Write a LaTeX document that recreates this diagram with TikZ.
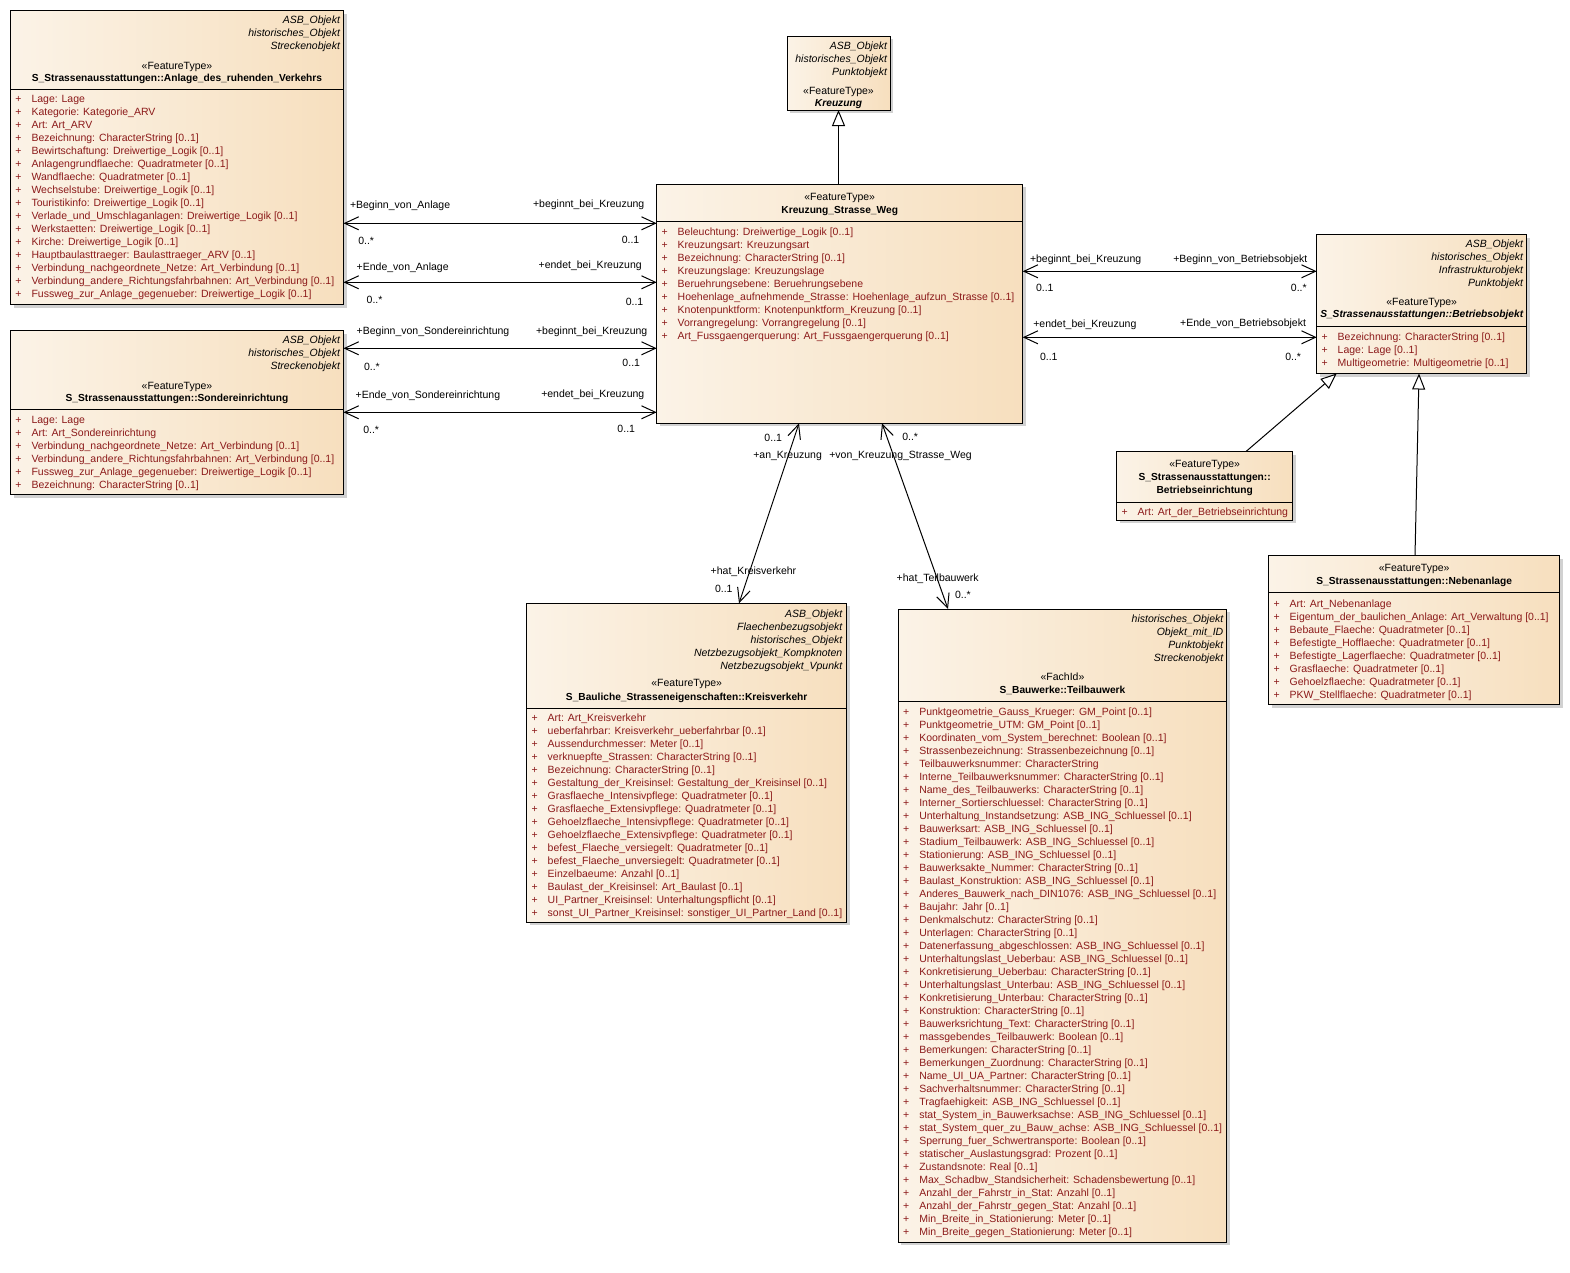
\documentclass[tikz,border=0pt]{standalone}
\usepackage{fontspec}
\setmainfont{Liberation Sans}
\usetikzlibrary{arrows.meta,shadows}
\definecolor{attrc}{RGB}{140,26,26}
\definecolor{fillL}{RGB}{251,243,231}
\definecolor{fillR}{RGB}{247,223,190}
\tikzset{
 umlbox/.style={draw=black, line width=1pt, rectangle, inner sep=0pt, outer sep=0pt, anchor=north west,
   left color=fillL, right color=fillR,
   drop shadow={shadow xshift=3pt, shadow yshift=-3pt, fill=black!18, opacity=1}},
 tx/.style={inner sep=0pt, outer sep=0pt, font=\fontsize{10.5}{13}\selectfont},
 ital/.style={tx, font=\fontsize{10.5}{13}\selectfont\itshape, anchor=base east},
 stereo/.style={tx, anchor=base},
 cname/.style={tx, font=\fontsize{10.2}{13}\selectfont\bfseries, anchor=base},
 cnameit/.style={tx, font=\fontsize{10.2}{13}\selectfont\bfseries\itshape, anchor=base},
 plustx/.style={tx, text=attrc, anchor=base},
 attrtx/.style={tx, text=attrc, anchor=base west},
 lbl/.style={tx, anchor=base west},
 lblr/.style={tx, anchor=base east},
 sepline/.style={line width=1pt},
 assoc/.style={line width=1pt, arrows={Straight Barb[length=14pt,width=13pt]-Straight Barb[length=14pt,width=13pt]}},
 gen/.style={line width=1pt, arrows={-Triangle[open,length=16pt,width=13pt,fill=white]}},
}
\newcommand\attrlist[4]{%
 \foreach \attxt [count=\i from 0] in {#4} {
   \node[plustx] (#3p\i) at (#1+8, #2+13*\i) {+};
   \node[attrtx] (#3a\i) at (#1+21, #2+13*\i) {\attxt};
 }}
\begin{document}
\catcode`\_=12
\begin{tikzpicture}[x=1pt,y=-1pt]
\fill[white] (0,0) rectangle (1570,1272);
\useasboundingbox (0,0) rectangle (1570,1272);

% ---------- Box A: Anlage_des_ruhenden_Verkehrs
\node[umlbox, minimum width=333pt, minimum height=294pt] (A) at (10.5,10.5) {};
\node[ital] (Ah1) at (340,23.5) {ASB_Objekt};
\node[ital] (Ah2) at (340,36) {historisches_Objekt};
\node[ital] (Ah3) at (340,49) {Streckenobjekt};
\node[stereo] (Ast) at (177,69) {«FeatureType»};
\node[cname] (Anm) at (177,81.5) {S_Strassenausstattungen::Anlage_des_ruhenden_Verkehrs};
\draw[sepline] (A.west |- 0,89) -- (A.east |- 0,89);
\attrlist{10.5}{102.5}{A}{Lage: Lage,
 Kategorie: Kategorie_ARV,
 Art: Art_ARV,
 Bezeichnung: CharacterString [0..1],
 Bewirtschaftung: Dreiwertige_Logik [0..1],
 Anlagengrundflaeche: Quadratmeter [0..1],
 Wandflaeche: Quadratmeter [0..1],
 Wechselstube: Dreiwertige_Logik [0..1],
 Touristikinfo: Dreiwertige_Logik [0..1],
 Verlade_und_Umschlaganlagen: Dreiwertige_Logik [0..1],
 Werkstaetten: Dreiwertige_Logik [0..1],
 Kirche: Dreiwertige_Logik [0..1],
 Hauptbaulasttraeger: Baulasttraeger_ARV [0..1],
 Verbindung_nachgeordnete_Netze: Art_Verbindung [0..1],
 Verbindung_andere_Richtungsfahrbahnen: Art_Verbindung [0..1],
 Fussweg_zur_Anlage_gegenueber: Dreiwertige_Logik [0..1]}

% ---------- Box S: Sondereinrichtung
\node[umlbox, minimum width=333pt, minimum height=164pt] (S) at (10.5,330.5) {};
\node[ital] (Sh1) at (340,343) {ASB_Objekt};
\node[ital] (Sh2) at (340,356) {historisches_Objekt};
\node[ital] (Sh3) at (340,369) {Streckenobjekt};
\node[stereo] (Sst) at (177,389) {«FeatureType»};
\node[cname] (Snm) at (177,401) {S_Strassenausstattungen::Sondereinrichtung};
\draw[sepline] (S.west |- 0,409.3) -- (S.east |- 0,409.3);
\attrlist{10.5}{423.5}{S}{Lage: Lage,
 Art: Art_Sondereinrichtung,
 Verbindung_nachgeordnete_Netze: Art_Verbindung [0..1],
 Verbindung_andere_Richtungsfahrbahnen: Art_Verbindung [0..1],
 Fussweg_zur_Anlage_gegenueber: Dreiwertige_Logik [0..1],
 Bezeichnung: CharacterString [0..1]}

% ---------- Box K: Kreuzung
\node[umlbox, minimum width=103pt, minimum height=74pt] (K) at (787,36) {};
\node[ital] (Kh1) at (887,49) {ASB_Objekt};
\node[ital] (Kh2) at (887,62) {historisches_Objekt};
\node[ital] (Kh3) at (887,75) {Punktobjekt};
\node[stereo] (Kst) at (838.5,94.5) {«FeatureType»};
\node[cnameit] (Knm) at (838.5,106) {Kreuzung};

% ---------- Box KSW: Kreuzung_Strasse_Weg
\node[umlbox, minimum width=366pt, minimum height=239pt] (KSW) at (656.7,184.3) {};
\node[stereo] (KSWst) at (839.7,200) {«FeatureType»};
\node[cname] (KSWnm) at (839.7,213.5) {Kreuzung_Strasse_Weg};
\draw[sepline] (KSW.west |- 0,221.7) -- (KSW.east |- 0,221.7);
\attrlist{656.7}{235}{KSW}{Beleuchtung: Dreiwertige_Logik [0..1],
 Kreuzungsart: Kreuzungsart,
 Bezeichnung: CharacterString [0..1],
 Kreuzungslage: Kreuzungslage,
 Beruehrungsebene: Beruehrungsebene,
 Hoehenlage_aufnehmende_Strasse: Hoehenlage_aufzun_Strasse [0..1],
 Knotenpunktform: Knotenpunktform_Kreuzung [0..1],
 Vorrangregelung: Vorrangregelung [0..1],
 Art_Fussgaengerquerung: Art_Fussgaengerquerung [0..1]}

% ---------- Box B: Betriebsobjekt
\node[umlbox, minimum width=210pt, minimum height=139pt] (B) at (1316.7,234.5) {};
\node[ital] (Bh1) at (1523,247.5) {ASB_Objekt};
\node[ital] (Bh2) at (1523,260) {historisches_Objekt};
\node[ital] (Bh3) at (1523,273) {Infrastrukturobjekt};
\node[ital] (Bh4) at (1523,286) {Punktobjekt};
\node[stereo] (Bst) at (1421.7,305) {«FeatureType»};
\node[cnameit] (Bnm) at (1421.7,317) {S_Strassenausstattungen::Betriebsobjekt};
\draw[sepline] (B.west |- 0,326.7) -- (B.east |- 0,326.7);
\attrlist{1316.7}{340}{B}{Bezeichnung: CharacterString [0..1],
 Lage: Lage [0..1],
 Multigeometrie: Multigeometrie [0..1]}

% ---------- Box E: Betriebseinrichtung
\node[umlbox, minimum width=176pt, minimum height=68.5pt] (E) at (1116.7,451.5) {};
\node[stereo] (Est) at (1204.7,467.5) {«FeatureType»};
\node[cname] (Enm1) at (1204.7,480) {S_Strassenausstattungen::};
\node[cname] (Enm2) at (1204.7,493) {Betriebseinrichtung};
\draw[sepline] (E.west |- 0,502.3) -- (E.east |- 0,502.3);
\attrlist{1116.7}{515}{E}{Art: Art_der_Betriebseinrichtung}

% ---------- Box N: Nebenanlage
\node[umlbox, minimum width=291pt, minimum height=149pt] (N) at (1268.7,555.5) {};
\node[stereo] (Nst) at (1414.2,571) {«FeatureType»};
\node[cname] (Nnm) at (1414.2,584) {S_Strassenausstattungen::Nebenanlage};
\draw[sepline] (N.west |- 0,592) -- (N.east |- 0,592);
\attrlist{1268.7}{607}{N}{Art: Art_Nebenanlage,
 Eigentum_der_baulichen_Anlage: Art_Verwaltung [0..1],
 Bebaute_Flaeche: Quadratmeter [0..1],
 Befestigte_Hofflaeche: Quadratmeter [0..1],
 Befestigte_Lagerflaeche: Quadratmeter [0..1],
 Grasflaeche: Quadratmeter [0..1],
 Gehoelzflaeche: Quadratmeter [0..1],
 PKW_Stellflaeche: Quadratmeter [0..1]}

% ---------- Box KV: Kreisverkehr
\node[umlbox, minimum width=320pt, minimum height=319pt] (KV) at (526.7,603.3) {};
\node[ital] (KVh1) at (842.3,617.5) {ASB_Objekt};
\node[ital] (KVh2) at (842.3,630.5) {Flaechenbezugsobjekt};
\node[ital] (KVh3) at (842.3,643.5) {historisches_Objekt};
\node[ital] (KVh4) at (842.3,656.5) {Netzbezugsobjekt_Kompknoten};
\node[ital] (KVh5) at (842.3,669.5) {Netzbezugsobjekt_Vpunkt};
\node[stereo] (KVst) at (686.7,686) {«FeatureType»};
\node[cname] (KVnm) at (686.7,700.5) {S_Bauliche_Strasseneigenschaften::Kreisverkehr};
\draw[sepline] (KV.west |- 0,708.3) -- (KV.east |- 0,708.3);
\attrlist{526.7}{721.5}{KV}{Art: Art_Kreisverkehr,
 ueberfahrbar: Kreisverkehr_ueberfahrbar [0..1],
 Aussendurchmesser: Meter [0..1],
 verknuepfte_Strassen: CharacterString [0..1],
 Bezeichnung: CharacterString [0..1],
 Gestaltung_der_Kreisinsel: Gestaltung_der_Kreisinsel [0..1],
 Grasflaeche_Intensivpflege: Quadratmeter [0..1],
 Grasflaeche_Extensivpflege: Quadratmeter [0..1],
 Gehoelzflaeche_Intensivpflege: Quadratmeter [0..1],
 Gehoelzflaeche_Extensivpflege: Quadratmeter [0..1],
 befest_Flaeche_versiegelt: Quadratmeter [0..1],
 befest_Flaeche_unversiegelt: Quadratmeter [0..1],
 Einzelbaeume: Anzahl [0..1],
 Baulast_der_Kreisinsel: Art_Baulast [0..1],
 UI_Partner_Kreisinsel: Unterhaltungspflicht [0..1],
 sonst_UI_Partner_Kreisinsel: sonstiger_UI_Partner_Land [0..1]}

% ---------- Box T: Teilbauwerk
\node[umlbox, minimum width=328.4pt, minimum height=633pt] (T) at (898.3,609) {};
\node[ital] (Th1) at (1223.3,622.5) {historisches_Objekt};
\node[ital] (Th2) at (1223.3,635.5) {Objekt_mit_ID};
\node[ital] (Th3) at (1223.3,648.5) {Punktobjekt};
\node[ital] (Th4) at (1223.3,661.5) {Streckenobjekt};
\node[stereo] (Tst) at (1062.5,680) {«FachId»};
\node[cname] (Tnm) at (1062.5,693.5) {S_Bauwerke::Teilbauwerk};
\draw[sepline] (T.west |- 0,701.7) -- (T.east |- 0,701.7);
\attrlist{898.3}{715.5}{T}{Punktgeometrie_Gauss_Krueger: GM_Point [0..1],
 Punktgeometrie_UTM: GM_Point [0..1],
 Koordinaten_vom_System_berechnet: Boolean [0..1],
 Strassenbezeichnung: Strassenbezeichnung [0..1],
 Teilbauwerksnummer: CharacterString,
 Interne_Teilbauwerksnummer: CharacterString [0..1],
 Name_des_Teilbauwerks: CharacterString [0..1],
 Interner_Sortierschluessel: CharacterString [0..1],
 Unterhaltung_Instandsetzung: ASB_ING_Schluessel [0..1],
 Bauwerksart: ASB_ING_Schluessel [0..1],
 Stadium_Teilbauwerk: ASB_ING_Schluessel [0..1],
 Stationierung: ASB_ING_Schluessel [0..1],
 Bauwerksakte_Nummer: CharacterString [0..1],
 Baulast_Konstruktion: ASB_ING_Schluessel [0..1],
 Anderes_Bauwerk_nach_DIN1076: ASB_ING_Schluessel [0..1],
 Baujahr: Jahr [0..1],
 Denkmalschutz: CharacterString [0..1],
 Unterlagen: CharacterString [0..1],
 Datenerfassung_abgeschlossen: ASB_ING_Schluessel [0..1],
 Unterhaltungslast_Ueberbau: ASB_ING_Schluessel [0..1],
 Konkretisierung_Ueberbau: CharacterString [0..1],
 Unterhaltungslast_Unterbau: ASB_ING_Schluessel [0..1],
 Konkretisierung_Unterbau: CharacterString [0..1],
 Konstruktion: CharacterString [0..1],
 Bauwerksrichtung_Text: CharacterString [0..1],
 massgebendes_Teilbauwerk: Boolean [0..1],
 Bemerkungen: CharacterString [0..1],
 Bemerkungen_Zuordnung: CharacterString [0..1],
 Name_UI_UA_Partner: CharacterString [0..1],
 Sachverhaltsnummer: CharacterString [0..1],
 Tragfaehigkeit: ASB_ING_Schluessel [0..1],
 stat_System_in_Bauwerksachse: ASB_ING_Schluessel [0..1],
 stat_System_quer_zu_Bauw_achse: ASB_ING_Schluessel [0..1],
 Sperrung_fuer_Schwertransporte: Boolean [0..1],
 statischer_Auslastungsgrad: Prozent [0..1],
 Zustandsnote: Real [0..1],
 Max_Schadbw_Standsicherheit: Schadensbewertung [0..1],
 Anzahl_der_Fahrstr_in_Stat: Anzahl [0..1],
 Anzahl_der_Fahrstr_gegen_Stat: Anzahl [0..1],
 Min_Breite_in_Stationierung: Meter [0..1],
 Min_Breite_gegen_Stationierung: Meter [0..1]}

% ---------- Generalizations
\draw[gen] (KSW.north -| K.south) -- (K.south);
\draw[gen] (E.north -| 1246,0) -- (B.south -| 1336.7,0);
\draw[gen] (N.north -| 1415,0) -- (B.south -| 1419,0);

% ---------- Associations left
\draw[assoc] (A.east |- 0,223.3) -- (KSW.west |- 0,223.3);
\node[lbl] (l1a) at (350,208.5) {+Beginn_von_Anlage};
\node[lblr] (l1b) at (644.3,207.5) {+beginnt_bei_Kreuzung};
\node[lbl] (l1c) at (358.3,244.5) {0..*};
\node[lblr] (l1d) at (639.3,243.5) {0..1};

\draw[assoc] (A.east |- 0,282.3) -- (KSW.west |- 0,282.3);
\node[lbl] (l2a) at (356.7,270) {+Ende_von_Anlage};
\node[lblr] (l2b) at (641.7,268.5) {+endet_bei_Kreuzung};
\node[lbl] (l2c) at (366.7,303) {0..*};
\node[lblr] (l2d) at (643.3,305) {0..1};

\draw[assoc] (S.east |- 0,348.3) -- (KSW.west |- 0,348.3);
\node[lbl] (l3a) at (356.7,334.5) {+Beginn_von_Sondereinrichtung};
\node[lblr] (l3b) at (647.3,334.5) {+beginnt_bei_Kreuzung};
\node[lbl] (l3c) at (364,370) {0..*};
\node[lblr] (l3d) at (640,366) {0..1};

\draw[assoc] (S.east |- 0,412.3) -- (KSW.west |- 0,412.3);
\node[lbl] (l4a) at (355.7,398) {+Ende_von_Sondereinrichtung};
\node[lblr] (l4b) at (644.3,397) {+endet_bei_Kreuzung};
\node[lbl] (l4c) at (363.3,433.5) {0..*};
\node[lblr] (l4d) at (635,432) {0..1};

% ---------- Associations right
\draw[assoc] (KSW.east |- 0,271.3) -- (B.west |- 0,271.3);
\node[lbl] (r1a) at (1030,262) {+beginnt_bei_Kreuzung};
\node[lblr] (r1b) at (1307.3,262) {+Beginn_von_Betriebsobjekt};
\node[lbl] (r1c) at (1036,291) {0..1};
\node[lblr] (r1d) at (1306.7,291) {0..*};

\draw[assoc] (KSW.east |- 0,337.3) -- (B.west |- 0,337.3);
\node[lbl] (r2a) at (1033.3,327) {+endet_bei_Kreuzung};
\node[lblr] (r2b) at (1306,326) {+Ende_von_Betriebsobjekt};
\node[lbl] (r2c) at (1040,360) {0..1};
\node[lblr] (r2d) at (1301,360) {0..*};

% ---------- Associations down
\draw[assoc] (KSW.south -| 799,0) -- (KV.north -| 739,0);
\node[lblr] (d1a) at (782,441) {0..1};
\node[lbl] (d1b) at (753.3,458.5) {+an_Kreuzung};
\node[lbl] (d1c) at (710.7,574) {+hat_Kreisverkehr};
\node[lbl] (d1d) at (715,592.5) {0..1};

\draw[assoc] (KSW.south -| 882,0) -- (T.north -| 948,0);
\node[lbl] (d2a) at (902.3,440) {0..*};
\node[lbl] (d2b) at (829.3,458.5) {+von_Kreuzung_Strasse_Weg};
\node[lbl] (d2c) at (896.7,581) {+hat_Teilbauwerk};
\node[lbl] (d2d) at (955,598.5) {0..*};
\end{tikzpicture}
\end{document}
